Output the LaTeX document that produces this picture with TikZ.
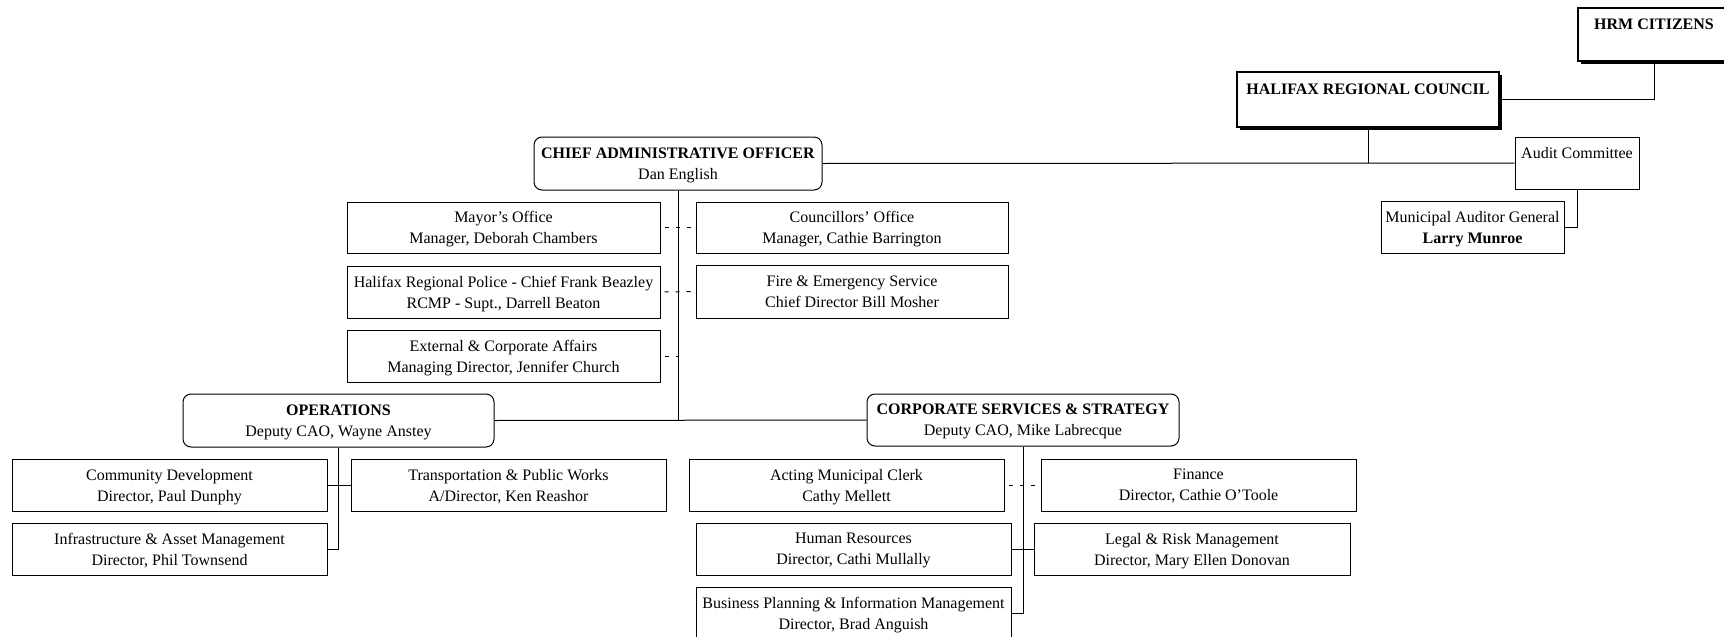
\documentclass[tikz,border=0pt]{standalone}
\usepackage{fontspec}
\setmainfont{Liberation Serif}
\usetikzlibrary{shadows}
\tikzset{
  box/.style={draw, line width=1pt, inner sep=0pt, align=center,
    font=\fontsize{16}{21}\selectfont, minimum height=52pt, minimum width=314pt,
    text depth=0pt},
  rbox/.style={box, rounded corners=8pt},
  sbox/.style={box, line width=1.3pt, fill=white,
    drop shadow={shadow xshift=2.5pt, shadow yshift=-2.5pt, fill=black, opacity=1}},
  conn/.style={line width=1pt},
  dconn/.style={line width=1pt, dash pattern=on 4pt off 7pt, dash phase=7pt},
}
\begin{document}
\begin{tikzpicture}[x=1pt,y=-1pt]
\useasboundingbox (0,0) rectangle (1724,637);
% top
\node[sbox, minimum width=152pt, minimum height=53pt] (hrm) at (1654,34.5) {\textbf{HRM CITIZENS}\\\mbox{}};
\node[sbox, minimum width=262pt, minimum height=55pt] (hal) at (1368,99.5) {\textbf{HALIFAX REGIONAL COUNCIL}\\\mbox{}};
\node[rbox, minimum width=288pt, minimum height=53pt] (cao) at (678,163.5) {\textbf{CHIEF ADMINISTRATIVE OFFICER}\\Dan English};
\node[box, minimum width=124pt] (audit) at (1577,163) {Audit Committee\\\mbox{}};
\node[box, minimum width=183pt] (mag) at (1472.5,227) {Municipal Auditor General\\\textbf{Larry Munroe}};
% CAO staff
\node[box, minimum width=313pt, minimum height=51pt] (mayor) at (503.5,227.5) {Mayor’s Office\\Manager, Deborah Chambers};
\node[box, minimum width=312pt, minimum height=51pt] (counc) at (852,227.5) {Councillors’ Office\\Manager, Cathie Barrington};
\node[box, minimum width=313pt] (police) at (503.5,292) {Halifax Regional Police - Chief Frank Beazley\\RCMP - Supt., Darrell Beaton};
\node[box, minimum width=312pt, minimum height=53pt] (fire) at (852,291.5) {Fire \& Emergency Service\\Chief Director Bill Mosher};
\node[box, minimum width=313pt] (ext) at (503.5,356) {External \& Corporate Affairs\\Managing Director, Jennifer Church};
% deputies
\node[rbox, minimum width=311pt, minimum height=53pt] (ops) at (338.5,420.5) {\textbf{OPERATIONS}\\Deputy CAO, Wayne Anstey};
\node[rbox, minimum width=312pt] (css) at (1023,420) {\textbf{CORPORATE SERVICES \& STRATEGY}\\Deputy CAO, Mike Labrecque};
% operations
\node[box, minimum width=315pt] (comm) at (169.5,485) {Community Development\\Director, Paul Dunphy};
\node[box, minimum width=315pt] (trans) at (508.5,485) {Transportation \& Public Works\\A/Director, Ken Reashor};
\node[box, minimum width=315pt] (infra) at (169.5,549) {Infrastructure \& Asset Management\\Director, Phil Townsend};
% corporate services
\node[box, minimum width=315pt] (clerk) at (846.5,485) {Acting Municipal Clerk\\Cathy Mellett};
\node[box, minimum width=315pt] (fin) at (1198.5,485) {Finance\\Director, Cathie O’Toole};
\node[box, minimum width=315pt] (hr) at (853.5,549) {Human Resources\\Director, Cathi Mullally};
\node[box, minimum width=316pt] (legal) at (1192,549) {Legal \& Risk Management\\Director, Mary Ellen Donovan};
\node[box, minimum width=315pt, minimum height=53pt] (bpim) at (853.5,613.5) {Business Planning \& Information Management\\Director, Brad Anguish};
% connectors
\draw[conn] (hrm.south) |- (hal.east);
\draw[conn] (cao.east) -- (audit.west);
\draw[conn] (hal.south) -- (hal.south |- audit.west);
\draw[conn] (audit.south) |- (mag.east);
\draw[conn] (cao.south) -- (cao.south |- ops.east);
\draw[conn] (ops.east) -- (css.west);
\draw[dconn] (mayor.east) -- (counc.west);
\draw[dconn] (police.east) -- (fire.west);
\draw[dconn] (ext.east) -- (ext.east -| cao.south);
\draw[conn] (ops.south) -- (ops.south |- infra.east);
\draw[conn] (comm.east) -- (trans.west);
\draw[conn] (infra.east) -- (infra.east -| ops.south);
\draw[conn] (css.south) -- (css.south |- bpim.east);
\draw[dconn] (clerk.east) -- (fin.west);
\draw[conn] (hr.east) -- (legal.west);
\draw[conn] (bpim.east) -- (bpim.east -| css.south);
\end{tikzpicture}
\end{document}
